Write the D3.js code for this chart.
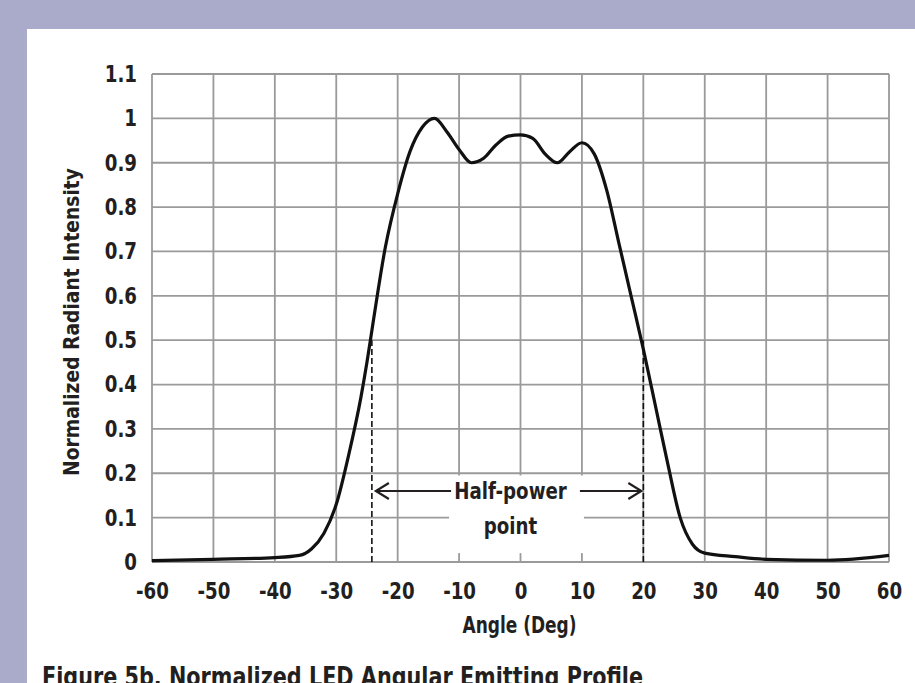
<!DOCTYPE html>
<html>
<head>
<meta charset="utf-8">
<script src="https://cdn.jsdelivr.net/npm/d3@7"></script>
<style>
  html, body { margin: 0; padding: 0; overflow: hidden; background: #aaabcb; }
  text { font-family: "Liberation Sans Narrow", "DejaVu Sans Condensed", "Liberation Sans", sans-serif; font-weight: bold; fill: #231f20; }
</style>
</head>
<body>
<div id="chart"></div>
<script>
// curve: angle (deg) -> normalized intensity
const angles = [-60, -50, -40, -36, -34, -32, -30, -28, -26, -25, -24, -22, -20, -18, -16, -14, -12, -10, -8, -6, -4, -2,
    0, 2, 4, 6, 8, 10, 12, 14, 16, 18, 20, 22, 24, 26, 28, 30, 35, 40, 50, 60];
const intensity = [0.003, 0.006, 0.01, 0.015, 0.03, 0.065, 0.13, 0.24, 0.37, 0.45, 0.54, 0.71, 0.83, 0.925, 0.98, 1.0, 0.97, 0.93, 0.9, 0.91, 0.94, 0.96,
    0.963, 0.955, 0.92, 0.9, 0.925, 0.945, 0.92, 0.84, 0.72, 0.6, 0.48, 0.35, 0.22, 0.1, 0.04, 0.02, 0.012, 0.006, 0.004, 0.015];

const xTicks = [-60, -50, -40, -30, -20, -10, 0, 10, 20, 30, 40, 50, 60];
const yTicks = [0, 0.1, 0.2, 0.3, 0.4, 0.5, 0.6, 0.7, 0.8, 0.9, 1, 1.1];

// half-power markers
const halfPowerAngles = [-24.2, 20];
const halfPowerLevel = 0.5;
const arrowLevel = 0.16;

const W = 915, H = 683;
const margin = { top: 74, right: 26, bottom: 121, left: 152 };
const width = W - margin.left - margin.right;
const height = H - margin.top - margin.bottom;

const svg = d3.select('#chart')
    .append('svg')
    .attr('width', W)
    .attr('height', H);

svg.append('rect').attr('width', W).attr('height', H).attr('fill', '#aaabcb');
svg.append('rect').attr('x', 27).attr('y', 29).attr('width', W - 27).attr('height', H - 29).attr('fill', '#fff');

const g = svg.append('g').attr('transform', `translate(${margin.left},${margin.top})`);

const x = d3.scaleLinear().domain([-60, 60]).range([0, width]);
const y = d3.scaleLinear().domain([0, 1.1]).range([height, 0]);

// grid
g.append('g')
    .selectAll('line')
    .data(xTicks)
    .join('line')
    .attr('x1', d => x(d)).attr('x2', d => x(d))
    .attr('y1', 0).attr('y2', height)
    .attr('stroke', '#9a9a9a').attr('stroke-width', 1.8);

g.append('g')
    .selectAll('line')
    .data(yTicks)
    .join('line')
    .attr('x1', 0).attr('x2', width)
    .attr('y1', d => y(d)).attr('y2', d => y(d))
    .attr('stroke', '#9a9a9a').attr('stroke-width', 1.8);

// axes (labels only), plain hyphen for negatives like the original
const xAxis = g.append('g')
    .attr('transform', `translate(0,${height})`)
    .call(d3.axisBottom(x).tickValues(xTicks).tickSize(0).tickPadding(21).tickFormat(d => String(d)));
xAxis.select('.domain').remove();
xAxis.selectAll('text').style('font-size', '23px').attr('fill', '#231f20').classed('narrow', true);

const yAxis = g.append('g')
    .call(d3.axisLeft(y).tickValues(yTicks).tickSize(0).tickPadding(15).tickFormat(d => String(+d.toFixed(1))));
yAxis.select('.domain').remove();
yAxis.selectAll('text').style('font-size', '23px').attr('fill', '#231f20').classed('narrow', true);

// label box for the half-power note (hides grid behind it)
const boxL = x(-10) - 10, boxR = x(10) + 2;
g.append('rect')
    .attr('x', boxL).attr('y', y(0.195))
    .attr('width', boxR - boxL).attr('height', y(0.02) - y(0.195))
    .attr('fill', '#fff');

// dashed half-power lines
g.selectAll('.hp')
    .data(halfPowerAngles)
    .join('line')
    .attr('class', 'hp')
    .attr('x1', d => x(d)).attr('x2', d => x(d))
    .attr('y1', y(0)).attr('y2', y(halfPowerLevel))
    .attr('stroke', '#111').attr('stroke-width', 1.6)
    .attr('stroke-dasharray', '6,3');

// arrows
const ay = y(arrowLevel);
const leftTip = x(halfPowerAngles[0]) + 4, rightTip = x(halfPowerAngles[1]) - 2;
const arrows = g.append('g').attr('stroke', '#231f20').attr('stroke-width', 2.2).attr('fill', 'none');
arrows.append('line').attr('x1', leftTip).attr('x2', boxL + 2).attr('y1', ay).attr('y2', ay);
arrows.append('line').attr('x1', boxR - 4).attr('x2', rightTip).attr('y1', ay).attr('y2', ay);
arrows.append('path').attr('d', `M${leftTip + 13},${ay - 8}L${leftTip},${ay}L${leftTip + 13},${ay + 8}`);
arrows.append('path').attr('d', `M${rightTip - 13},${ay - 8}L${rightTip},${ay}L${rightTip - 13},${ay + 8}`);

g.append('text')
    .attr('class', 'narrow')
    .attr('x', (boxL + boxR) / 2 - 6).attr('y', ay + 8)
    .attr('text-anchor', 'middle')
    .style('font-size', '23px')
    .text('Half-power');
g.append('text')
    .attr('class', 'narrow')
    .attr('x', (boxL + boxR) / 2 - 6).attr('y', ay + 43)
    .attr('text-anchor', 'middle')
    .style('font-size', '23px')
    .text('point');

// curve
const pts = angles.map((a, i) => [a, intensity[i]]);
g.append('path')
    .datum(pts)
    .attr('fill', 'none')
    .attr('stroke', '#111')
    .attr('stroke-width', 3.2)
    .attr('stroke-linejoin', 'round')
    .attr('d', d3.line().x(d => x(d[0])).y(d => y(d[1])).curve(d3.curveMonotoneX));

// titles
g.append('text')
    .attr('x', width / 2 - 1).attr('y', height + 71)
    .attr('text-anchor', 'middle')
    .attr('textLength', 114)
    .attr('lengthAdjust', 'spacingAndGlyphs')
    .style('font-size', '23px')
    .text('Angle (Deg)');

g.append('text')
    .attr('transform', `translate(${-73},${height / 2 + 4}) rotate(-90)`)
    .attr('text-anchor', 'middle')
    .attr('textLength', 308)
    .attr('lengthAdjust', 'spacingAndGlyphs')
    .style('font-size', '22px')
    .text('Normalized Radiant Intensity');

// squeeze the taller labels so they read like the condensed face of the original
svg.selectAll('text.narrow').each(function () {
    const len = this.getComputedTextLength();
    d3.select(this).attr('textLength', len * 0.88).attr('lengthAdjust', 'spacingAndGlyphs');
});

// caption runs off the bottom edge, as in the source image
svg.append('text')
    .attr('x', 42).attr('y', 686)
    .attr('textLength', 601)
    .attr('lengthAdjust', 'spacingAndGlyphs')
    .style('font-size', '26px')
    .text('Figure 5b. Normalized LED Angular Emitting Profile');
</script>
</body>
</html>
